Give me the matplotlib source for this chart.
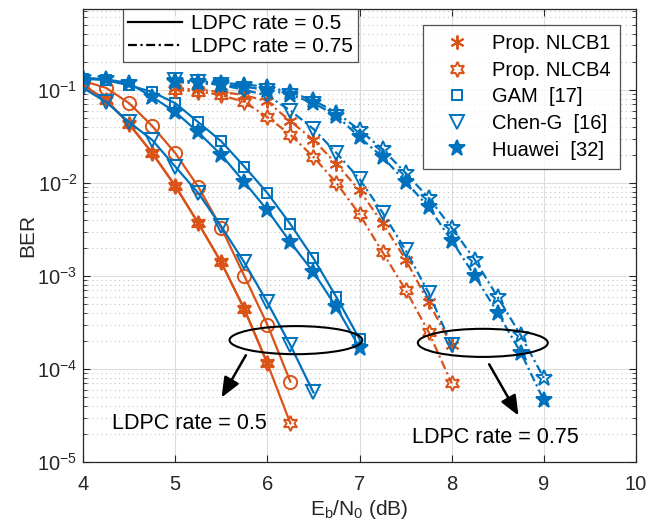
import matplotlib
matplotlib.use("Agg")
import matplotlib.pyplot as plt
from matplotlib.lines import Line2D
from matplotlib.patches import Ellipse

# ---- data (BER vs Eb/N0) ----
EBN0_R05 = [4.0, 4.25, 4.5, 4.75, 5.0, 5.25, 5.5, 5.75, 6.0, 6.25, 6.5, 6.75, 7.0]
EBN0_R075 = [5.0, 5.25, 5.5, 5.75, 6.0, 6.25, 6.5, 6.75, 7.0, 7.25, 7.5,
             7.75, 8.0, 8.25, 8.5, 8.75, 9.0]

# LDPC rate 0.5
ber_nlcb1_r05 = [0.112, 0.078, 0.043, 0.021, 0.0093, 0.0037, 0.0014, 4.4e-4, 1.15e-4]
ber_nlcb4_r05 = [0.112, 0.078, 0.043, 0.021, 0.0093, 0.0037, 0.0014, 4.4e-4, 1.15e-4, 2.6e-5]
ber_circle_r05 = [0.125, 0.105, 0.072, 0.041, 0.021, 0.0091, 0.0033, 1.0e-3, 3.0e-4, 7.3e-5]
ber_gam_r05 = [0.132, 0.127, 0.112, 0.095, 0.072, 0.045, 0.028, 0.015, 0.0078,
               0.0036, 1.55e-3, 5.9e-4, 2.1e-4]
ber_cheng_r05 = [0.105, 0.074, 0.045, 0.029, 0.015, 0.0078, 0.0034, 1.4e-3, 5.2e-4,
                 1.8e-4, 5.6e-5]
ber_huawei_r05 = [0.135, 0.13, 0.118, 0.084, 0.058, 0.035, 0.020, 0.0102, 0.0051,
                  2.3e-3, 1.1e-3, 4.6e-4, 1.7e-4]

# LDPC rate 0.75
ber_nlcb1_r075 = [0.105, 0.100, 0.095, 0.088, 0.075, 0.046, 0.029, 0.016, 8.3e-3,
                  3.7e-3, 1.5e-3, 5.2e-4, 1.8e-4]
ber_nlcb4_r075 = [0.100, 0.096, 0.088, 0.074, 0.051, 0.033, 0.019, 0.010, 4.6e-3,
                  1.8e-3, 7.1e-4, 2.5e-4, 7.0e-5]
ber_gam_r075 = [0.126, 0.123, 0.119, 0.114, 0.108, 0.094, 0.077, 0.057, 0.037, 0.023,
                0.0128, 0.0069, 0.0033, 1.5e-3, 5.9e-4, 2.3e-4, 8.0e-5]
ber_cheng_r075 = [0.128, 0.121, 0.113, 0.100, 0.087, 0.060, 0.038, 0.021, 0.011,
                  4.8e-3, 1.9e-3, 6.6e-4, 1.8e-4]
ber_huawei_r075 = [0.121, 0.118, 0.114, 0.108, 0.100, 0.089, 0.072, 0.053, 0.031,
                   0.019, 0.0103, 0.0055, 0.0024, 1.0e-3, 4.0e-4, 1.5e-4, 4.6e-5]

LEGEND_LABELS = ["Prop. NLCB1", "Prop. NLCB4", "GAM  [17]", "Chen-G  [16]", "Huawei  [32]"]

ORANGE = "#D95319"
BLUE = "#0072BD"
ASTERISK = (6, 2, 0)
HEXAGRAM = (6, 1, 0)

plt.rcParams["font.family"] = ["Liberation Sans", "DejaVu Sans"]
plt.rcParams["mathtext.default"] = "regular"

fig = plt.figure(figsize=(6.47, 5.31), dpi=100, facecolor="white")
ax = fig.add_axes([83 / 647, 1 - 462 / 531, 553 / 647, 453 / 531])

DASHDOT = (0, (4, 1.6, 1, 1.6))
LW = 1.6


def curve(x, y, color, marker, ms, ls, filled=False, mew=1.4):
    ax.semilogy(x[:len(y)], y, color=color, linestyle=ls, linewidth=LW,
                marker=marker, markersize=ms, markeredgewidth=mew,
                markerfacecolor=color if filled else "none")


# rate 0.5 (solid)
curve(EBN0_R05, ber_circle_r05, ORANGE, "o", 9.5, "-")
curve(EBN0_R05, ber_nlcb1_r05, ORANGE, ASTERISK, 10, "-")
curve(EBN0_R05, ber_nlcb4_r05, ORANGE, HEXAGRAM, 11, "-")
curve(EBN0_R05, ber_gam_r05, BLUE, "s", 7, "-")
curve(EBN0_R05, ber_cheng_r05, BLUE, "v", 10, "-")
curve(EBN0_R05, ber_huawei_r05, BLUE, "*", 12, "-", filled=True)

# rate 0.75 (dash-dot)
curve(EBN0_R075, ber_nlcb1_r075, ORANGE, ASTERISK, 10, DASHDOT)
curve(EBN0_R075, ber_nlcb4_r075, ORANGE, HEXAGRAM, 11, DASHDOT)
curve(EBN0_R075, ber_gam_r075, BLUE, "*", 12, DASHDOT)
curve(EBN0_R075, ber_cheng_r075, BLUE, "v", 10, DASHDOT)
curve(EBN0_R075, ber_huawei_r075, BLUE, "*", 12, DASHDOT, filled=True)

ax.set_xlim(4, 10)
ax.set_ylim(1e-5, 0.74)
ax.set_xticks([4, 5, 6, 7, 8, 9, 10])
ax.set_xlabel(r"E$_b$/N$_0$ (dB)", fontsize=15, color="#262626", labelpad=3)
ax.set_ylabel("BER", fontsize=15, color="#262626", labelpad=0)

ax.grid(True, which="major", color="#dcdcdc", linewidth=0.8, linestyle="-")
ax.grid(True, which="minor", axis="y", color="#c4c4c4", linewidth=0.8,
        linestyle=(0, (1, 3)))
ax.set_axisbelow(True)
for side in ("top", "right", "left", "bottom"):
    ax.spines[side].set_color("#262626")
    ax.spines[side].set_linewidth(0.9)
ax.tick_params(axis="both", which="both", direction="in", top=True, right=True,
               labelsize=14.5, colors="#262626")
ax.tick_params(axis="both", which="major", length=5)
ax.tick_params(axis="x", which="major", pad=9)
ax.tick_params(axis="y", which="major", pad=4)
ax.tick_params(axis="y", which="minor", length=3)

# marker legend
handles = [
    Line2D([], [], color=ORANGE, marker=ASTERISK, ls="none", ms=10, mew=1.4),
    Line2D([], [], color=ORANGE, marker=HEXAGRAM, ls="none", ms=11, mew=1.4, mfc="none"),
    Line2D([], [], color=BLUE, marker="s", ls="none", ms=7, mew=1.4, mfc="none"),
    Line2D([], [], color=BLUE, marker="v", ls="none", ms=10, mew=1.4, mfc="none"),
    Line2D([], [], color=BLUE, marker="*", ls="none", ms=12, mew=1.4),
]
leg1 = ax.legend(handles, LEGEND_LABELS, loc="upper right",
                 bbox_to_anchor=(0.971, 0.965), fontsize=14.5, frameon=True,
                 fancybox=False, edgecolor="#262626", borderpad=0.45,
                 handlelength=2.5, handletextpad=0.5, labelspacing=0.38,
                 borderaxespad=0)
leg1.get_frame().set_linewidth(0.9)
ax.add_artist(leg1)

# line-style legend
style_handles = [
    Line2D([], [], color="black", lw=1.6, ls="-"),
    Line2D([], [], color="black", lw=1.6, ls=DASHDOT),
]
leg2 = ax.legend(style_handles, ["LDPC rate = 0.5", "LDPC rate = 0.75"],
                 loc="upper left", bbox_to_anchor=(0.072, 1.0), fontsize=15,
                 frameon=True, fancybox=False, edgecolor="#262626",
                 borderpad=0.25, handlelength=2.6, handletextpad=0.4,
                 labelspacing=0.2, borderaxespad=0)
leg2.get_frame().set_linewidth(0.9)

# ellipses, arrows and labels
for cx, cy, w in ((0.385, 0.269, 0.24), (0.723, 0.263, 0.235)):
    ax.add_patch(Ellipse((cx, cy), w, 0.062, transform=ax.transAxes,
                         fill=False, edgecolor="black", linewidth=1.5, zorder=5))
ax.annotate("", xy=(0.248, 0.137), xytext=(0.297, 0.241), xycoords="axes fraction",
            arrowprops=dict(arrowstyle="-|>,head_length=0.6,head_width=0.25",
                            color="black", lw=1.8, mutation_scale=20))
ax.annotate("", xy=(0.790, 0.097), xytext=(0.732, 0.221), xycoords="axes fraction",
            arrowprops=dict(arrowstyle="-|>,head_length=0.6,head_width=0.25",
                            color="black", lw=1.8, mutation_scale=20))
ax.text(0.192, 0.086, "LDPC rate = 0.5", transform=ax.transAxes, fontsize=15.5,
        ha="center", va="center", color="black")
ax.text(0.745, 0.055, "LDPC rate = 0.75", transform=ax.transAxes, fontsize=15.5,
        ha="center", va="center", color="black")

fig.savefig("out.png", dpi=100, facecolor="white")
